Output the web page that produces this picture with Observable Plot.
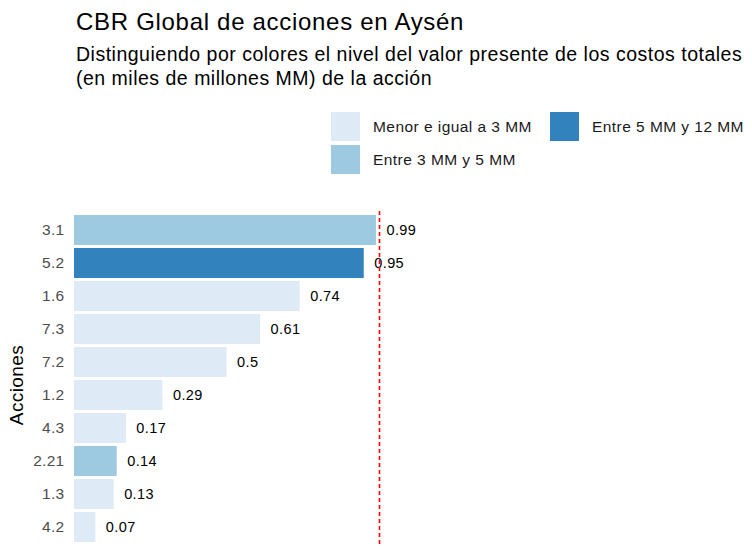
<!DOCTYPE html>
<html>
<head>
<meta charset="utf-8">
<script src="https://cdn.jsdelivr.net/npm/d3@7"></script>
<script src="https://cdn.jsdelivr.net/npm/@observablehq/plot@0.6"></script>
<style>
  body { margin: 0; background: #fff; font-family: "Liberation Sans", Arial, sans-serif; }
  #wrap { position: relative; width: 752px; height: 546px; overflow: hidden; }
  .title { position: absolute; left: 76px; top: 8px; font-size: 24px; line-height: 28px; letter-spacing: 0.7px; color: #000; white-space: nowrap; }
  .subtitle { position: absolute; left: 76px; top: 42px; font-size: 19.5px; line-height: 24px; letter-spacing: 0.5px; color: #000; white-space: nowrap; }
  .legend { position: absolute; left: 331px; top: 112px; font-size: 15.5px; letter-spacing: 0.45px; color: #1a1a1a; }
  .item { position: absolute; display: flex; align-items: center; white-space: nowrap; }
  .sw { width: 29px; height: 29px; margin-right: 13px; }
  .ylab { position: absolute; left: 17px; top: 385px; transform: translate(-50%, -50%) rotate(-90deg); font-size: 19px; letter-spacing: 0.4px; color: #000; white-space: nowrap; }
  #chart { position: absolute; left: 0; top: 200px; }
</style>
</head>
<body>
<div id="wrap">
  <div class="title">CBR Global de acciones en Aysén</div>
  <div class="subtitle">Distinguiendo por colores el nivel del valor presente de los costos totales<br>(en miles de millones MM) de la acción</div>
  <div class="legend" id="legend"></div>
  <div class="ylab">Acciones</div>
  <div id="chart"></div>
</div>
<script>
const acciones = ["3.1", "5.2", "1.6", "7.3", "7.2", "1.2", "4.3", "2.21", "1.3", "4.2"];
const cbr = [0.99, 0.95, 0.74, 0.61, 0.5, 0.29, 0.17, 0.14, 0.13, 0.07];
const nivel = [
  "Entre 3 MM y 5 MM", "Entre 5 MM y 12 MM", "Menor e igual a 3 MM", "Menor e igual a 3 MM",
  "Menor e igual a 3 MM", "Menor e igual a 3 MM", "Menor e igual a 3 MM", "Entre 3 MM y 5 MM",
  "Menor e igual a 3 MM", "Menor e igual a 3 MM"
];
const categorias = ["Menor e igual a 3 MM", "Entre 3 MM y 5 MM", "Entre 5 MM y 12 MM"];
const colores = ["#deebf7", "#9ecae1", "#3182bd"];
const umbral = [1];

const data = acciones.map((a, i) => ({accion: a, cbr: cbr[i], nivel: nivel[i]}));

const plot = Plot.plot({
  width: 752,
  height: 346,
  marginTop: 11,
  marginBottom: 0,
  marginLeft: 74,
  marginRight: 0,
  style: {fontFamily: "Liberation Sans, Arial, sans-serif", background: "transparent"},
  x: {domain: [0, 1], range: [74, 379], axis: null},
  y: {domain: acciones, padding: 0.1, label: null},
  color: {domain: categorias, range: colores},
  marks: [
    Plot.barX(data, {x: "cbr", y: "accion", fill: "nivel"}),
    Plot.text(data, {x: "cbr", y: "accion", text: d => String(d.cbr), textAnchor: "start", dx: 10, fontSize: 14.5, fill: "#000"}),
    Plot.ruleX(umbral, {stroke: "red", strokeDasharray: "4,3", strokeWidth: 1.6}),
    Plot.axisY({tickSize: 0, tickPadding: 10, fontSize: 15.5, color: "#4d4d4d", label: null})
  ]
});
document.getElementById("chart").appendChild(plot);
plot.querySelectorAll("[aria-label='y-axis tick label'] text").forEach(t => t.style.letterSpacing = "0.3px");
plot.querySelectorAll("[aria-label='text'] text").forEach(t => t.style.letterSpacing = "0.4px");

const cs = plot.scale("color");
const pos = [[0, 0], [0, 33], [219, 0]];
const leg = document.getElementById("legend");
categorias.forEach((c, i) => {
  const it = document.createElement("div");
  it.className = "item";
  it.style.left = pos[i][0] + "px";
  it.style.top = pos[i][1] + "px";
  const sw = document.createElement("div");
  sw.className = "sw";
  sw.style.background = cs.range[cs.domain.indexOf(c)];
  const t = document.createElement("span");
  t.textContent = c;
  it.appendChild(sw);
  it.appendChild(t);
  leg.appendChild(it);
});
</script>
</body>
</html>
